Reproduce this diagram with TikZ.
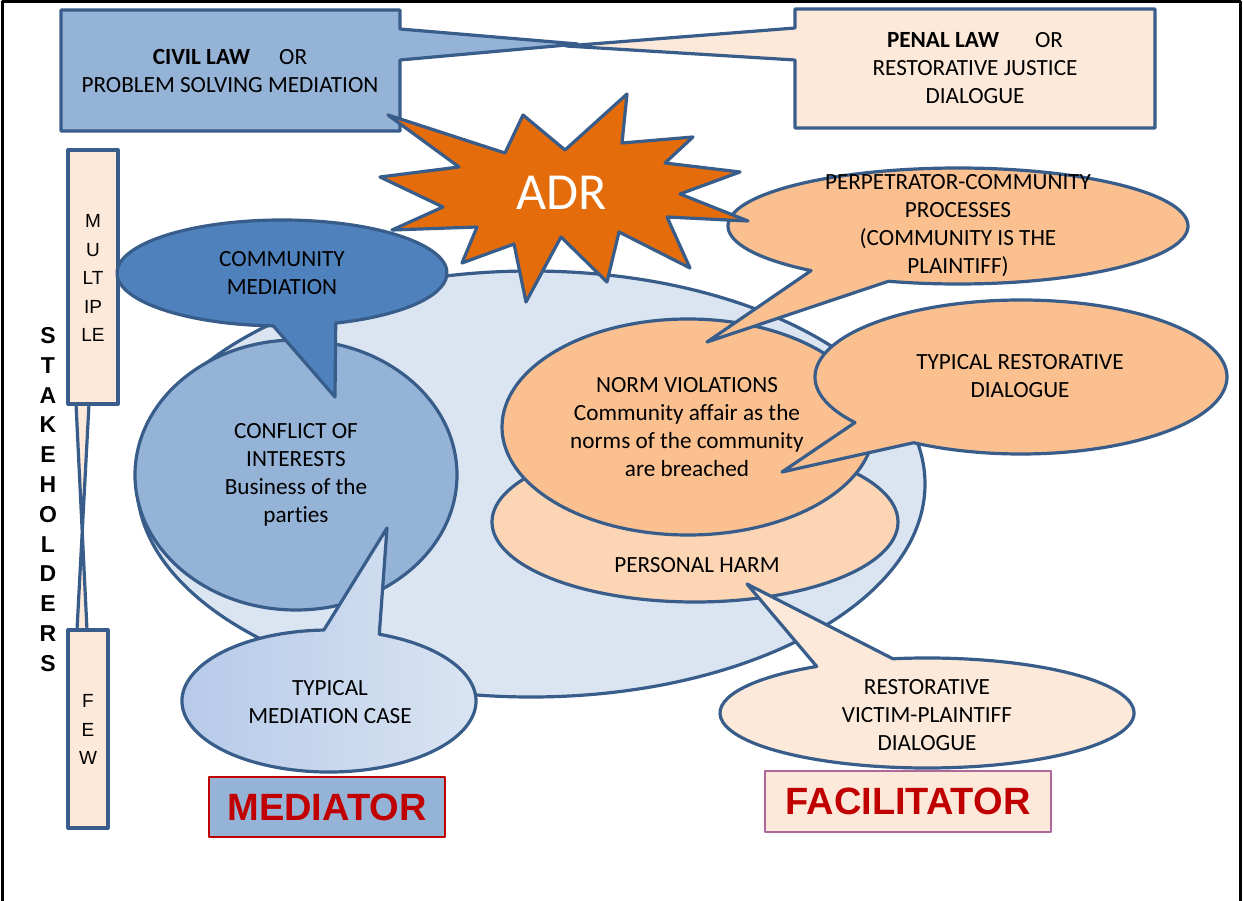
\documentclass[tikz,border=0pt]{standalone}
\usepackage{fontspec}
\setmainfont{Carlito}[Ligatures=NoCommon]
\newfontfamily\arialf{Liberation Sans}
\definecolor{edge}{HTML}{385D8A}
\definecolor{civil}{HTML}{95B3D7}
\definecolor{peach}{HTML}{FDE9D9}
\definecolor{commblue}{HTML}{4F81BD}
\definecolor{bigblue}{HTML}{DBE5F1}
\definecolor{orangel}{HTML}{FAC090}
\definecolor{harm}{HTML}{FCD5B5}
\definecolor{star}{HTML}{E46C0A}
\definecolor{medA}{HTML}{B4C8E8}
\definecolor{medB}{HTML}{DCE6F3}
\definecolor{darkred}{HTML}{C00000}
\definecolor{facil}{HTML}{B0679A}
\begin{document}
\begin{tikzpicture}[x=1pt,y=-1pt,line join=round]
\tikzset{
  shp/.style={draw=edge,line width=3.2pt},
  txt/.style={font=\fontsize{23.2}{28}\selectfont,align=center,inner sep=0pt},
  stk/.style={font=\arialf\fontsize{19}{28.5}\selectfont,align=center,inner sep=0pt},
  rolebox/.style={font=\arialf\bfseries\fontsize{38}{40}\selectfont,text=darkred,inner sep=0pt,line width=1.4pt}
}
\useasboundingbox (0,0) rectangle (1243,901);
\fill[white] (0,0) rectangle (1243,901);
% frame
\draw[line width=3pt] (2,903) -- (2,2) -- (1240,2) -- (1240,903);

% civil law callout box
\draw[shp,fill=civil] (61,10) -- (400,10) -- (400,29) -- (578,44) -- (400,60) -- (400,131) -- (61,131) -- cycle;
% penal law callout box
\draw[shp,fill=peach] (795,9) -- (1155,9) -- (1155,128) -- (795,128) -- (795,60) -- (566,46) -- (795,28) -- cycle;

% stakeholders boxes
\draw[shp,fill=peach] (76,404) -- (87,630) -- (77,630) -- (89,404) -- cycle;
\draw[shp,fill=peach] (68,150) rectangle (118,404);
\draw[shp,fill=peach] (68,630) rectangle (108,828);

% big ellipse
\draw[shp,fill=bigblue] (531,484) ellipse [x radius=394,y radius=213];
% conflict ellipse
\draw[shp,fill=civil] (296,475) ellipse [x radius=161,y radius=135];
% community mediation callout
\draw[shp,fill=commblue] (282,273) ++(93:165 and 53)
  arc[start angle=93,end angle=431,x radius=165,y radius=53] -- (335,397) -- cycle;
% personal harm
\draw[shp,fill=harm] (695,522) ellipse [x radius=203,y radius=80];
% norm violations
\draw[shp,fill=orangel] (688,427) ellipse [x radius=186,y radius=108];
% perpetrator callout
\draw[shp,fill=orangel] (958,226) ++(129.7:230 and 58)
  arc[start angle=129.7,end angle=467.6,x radius=230,y radius=58] -- (707,342) -- cycle;
% typical restorative callout
\draw[shp,fill=orangel] (1021,377) ++(143.7:206 and 77)
  arc[start angle=143.7,end angle=481.4,x radius=206,y radius=77] -- (782,472) -- cycle;
% victim callout
\draw[shp,fill=peach] (927,713) ++(260.5:207 and 55)
  arc[start angle=260.5,end angle=597.8,x radius=207,y radius=55] -- (747,584) -- cycle;
% typical mediation callout
\draw[shp,left color=medA,right color=medB] (329,701) ++(290:147 and 71)
  arc[start angle=290,end angle=628,x radius=147,y radius=71] -- (387,528) -- cycle;
% ADR star
\draw[shp,fill=star] (388,115) -- (505,153) -- (523,115) -- (565,150) -- (627,94) -- (622,143)
  -- (693,137) -- (665,163) -- (740,172) -- (680,194) -- (748,221) -- (667,217) -- (690,268)
  -- (619,232) -- (607,282) -- (561,237) -- (526,302) -- (514,244) -- (462,263) -- (477,227)
  -- (392,230) -- (443,207) -- (380,177) -- (459,167) -- cycle;

% texts
\node[txt] (civiltxt) at (230,71) {\textbf{CIVIL LAW}\hspace{1.25em}OR\\PROBLEM SOLVING MEDIATION};
\node[txt] (penaltxt) at (975,68) {\textbf{PENAL LAW}\hspace{1.55em}OR\\RESTORATIVE JUSTICE\\DIALOGUE};
\node[txt,text=white,font=\fontsize{52}{56}\selectfont] (adr) at (562,193) {ADR};
\node[txt] (comm) at (282,273) {COMMUNITY\\MEDIATION};
\node[txt] (confl) at (296,475) {CONFLICT OF\\INTERESTS\\Business of the\\parties};
\node[txt] (typmed) at (330,702) {TYPICAL\\MEDIATION CASE};
\node[txt] (norm) at (687,427) {NORM VIOLATIONS\\Community affair as the\\norms of the community\\are breached};
\node[txt] (harmtxt) at (697,565) {PERSONAL HARM};
\node[txt] (perp) at (958,226) {PERPETRATOR-COMMUNITY\\PROCESSES\\(COMMUNITY IS THE\\PLAINTIFF)};
\node[txt] (typrest) at (1020,376) {TYPICAL RESTORATIVE\\DIALOGUE};
\node[txt] (victim) at (927,715) {RESTORATIVE\\VICTIM-PLAINTIFF\\DIALOGUE};

% stakeholders
\node[font=\arialf\bfseries\fontsize{23}{29.8}\selectfont,align=center,inner sep=0pt] (stake) at (48,499.5)
  {S\\T\\A\\K\\E\\H\\O\\L\\D\\E\\R\\S};
\node[stk] (multi) at (93,278) {M\\U\\LT\\IP\\LE};
\node[stk] (few) at (88,729.5) {F\\E\\W};

% role boxes
\node[rolebox,draw=darkred,fill=civil,minimum width=236,minimum height=60] (mediator) at (327,807) {MEDIATOR};
\node[rolebox,draw=facil,fill=peach,minimum width=286,minimum height=61] (facilitator) at (908,801.5) {FACILITATOR};
\end{tikzpicture}
\end{document}
